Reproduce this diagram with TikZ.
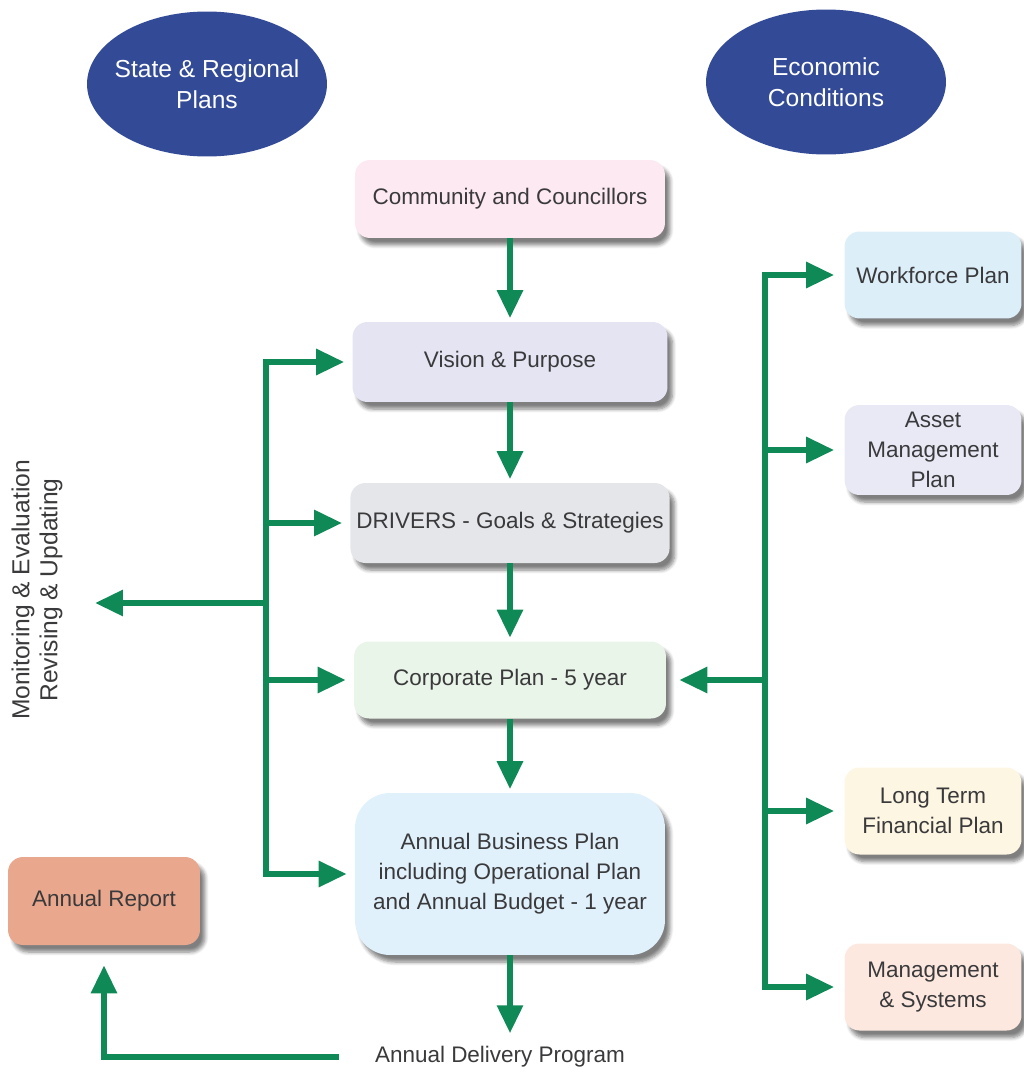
\documentclass[tikz,border=0pt]{standalone}
\usepackage{fontspec}
\setmainfont{Liberation Sans}
\usepackage{tikz}
\usetikzlibrary{shapes, arrows.meta, shadows.blur}

\definecolor{planblue}{RGB}{51,75,150}
\definecolor{flowgreen}{RGB}{15,138,87}
\definecolor{textgray}{RGB}{58,58,60}
\definecolor{commpink}{RGB}{253,233,242}
\definecolor{visionlilac}{RGB}{228,228,243}
\definecolor{driversgray}{RGB}{229,230,233}
\definecolor{corpgreen}{RGB}{234,245,233}
\definecolor{abpblue}{RGB}{225,241,251}
\definecolor{reportsalmon}{RGB}{233,168,142}
\definecolor{workblue}{RGB}{220,238,248}
\definecolor{assetlilac}{RGB}{233,233,246}
\definecolor{financecream}{RGB}{253,246,226}
\definecolor{mgmtpeach}{RGB}{253,232,223}

\begin{document}
\begin{tikzpicture}[x=0.02cm, y=-0.02cm]

\tikzstyle{connector} = [draw, flowgreen, line width=0.12cm, -{Triangle[length=0.56cm, width=0.5cm]}]
\tikzstyle{trunk} = [draw, flowgreen, line width=0.12cm, line cap=rect]
\tikzstyle{process} = [rectangle, text=textgray, text centered, align=center, rounded corners=0.3cm, minimum width=6.3cm, minimum height=1.6cm, font=\fontsize{12.8}{17}\selectfont, blur shadow={shadow xshift=0.1cm, shadow yshift=-0.14cm, shadow blur steps=6, shadow opacity=50}]
\tikzstyle{side} = [process, minimum width=3.54cm, minimum height=1.74cm]
\tikzstyle{source} = [ellipse, fill=planblue, text=white, align=center, inner xsep=-0.15cm, inner ysep=0pt, minimum width=4.8cm, minimum height=2.9cm, font=\fontsize{14}{17.5}\selectfont]
\tikzstyle{caption} = [text=textgray, align=center, font=\fontsize{12.8}{16}\selectfont]

\useasboundingbox (0,0) rectangle (1024,1072);

\node [source] at (207,84) (state) {State \& Regional\\Plans};
\node [source] at (826,82) (economy) {Economic\\Conditions};

\node [process, fill=commpink, minimum width=6.2cm, minimum height=1.56cm] at (510,199) (comm) {Community and Councillors};
\node [process, fill=visionlilac] at (510,362) (vision) {Vision \& Purpose};
\node [process, fill=driversgray] at (510,523) (drivers) {DRIVERS - Goals \& Strategies};
\node [process, fill=corpgreen, minimum width=6.24cm, minimum height=1.54cm] at (510,680) (corp) {Corporate Plan - 5 year};
\node [process, fill=abpblue, rounded corners=0.7cm, minimum width=6.2cm, minimum height=3.24cm] at (510,874) (abp) {Annual Business Plan\\including Operational Plan\\and Annual Budget - 1 year};
\node [process, fill=reportsalmon, minimum width=3.84cm, minimum height=1.76cm] at (104,901) (report) {Annual Report};

\node [side, fill=workblue] at (933,275) (workforce) {Workforce Plan};
\node [side, fill=assetlilac, minimum height=1.8cm] at (933,450) (asset) {Asset\\Management\\Plan};
\node [side, fill=financecream] at (933,811) (finance) {Long Term\\Financial Plan};
\node [side, fill=mgmtpeach] at (933,987) (mgmt) {Management\\\& Systems};

\node [caption] at (500,1057) (delivery) {Annual Delivery Program};
\node [caption, rotate=90, font=\fontsize{14}{16}\selectfont] at (37,590) (monitor) {Monitoring \& Evaluation\\Revising \& Updating};

\coordinate (ltrunk) at (266,603);
\coordinate (rtrunk) at (765,680);
\coordinate (mtip) at (95,603);

% main column
\path [connector, shorten >=2pt] (comm) -- (vision);
\path [connector, shorten >=2pt] (vision) -- (drivers);
\path [connector, shorten >=2pt] (drivers) -- (corp);
\path [connector, shorten >=2pt] (corp) -- (abp);
\path [connector, shorten >=4pt] (abp) -- (abp |- delivery.north);
\path [connector, shorten <=0.6cm, shorten >=0.4cm] (delivery.west) -| (report.south);

% left feedback
\path [trunk] (vision.west -| ltrunk) -- (abp.west -| ltrunk);
\path [connector, shorten >=0.16cm] (vision.west -| ltrunk) -- (vision.west);
\path [connector, shorten >=0.16cm] (drivers.west -| ltrunk) -- (drivers.west);
\path [connector, shorten >=0.16cm] (corp.west -| ltrunk) -- (corp.west);
\path [connector, shorten >=0.16cm] (abp.west -| ltrunk) -- (abp.west);
\path [connector] (ltrunk) -- (mtip);

% right side plans
\path [trunk] (workforce.west -| rtrunk) -- (mgmt.west -| rtrunk);
\path [connector, shorten >=0.2cm] (workforce.west -| rtrunk) -- (workforce.west);
\path [connector, shorten >=0.2cm] (asset.west -| rtrunk) -- (asset.west);
\path [connector, shorten >=0.2cm] (finance.west -| rtrunk) -- (finance.west);
\path [connector, shorten >=0.2cm] (mgmt.west -| rtrunk) -- (mgmt.west);
\path [connector, shorten >=0.26cm] (rtrunk) -- (corp.east);

\end{tikzpicture}
\end{document}
